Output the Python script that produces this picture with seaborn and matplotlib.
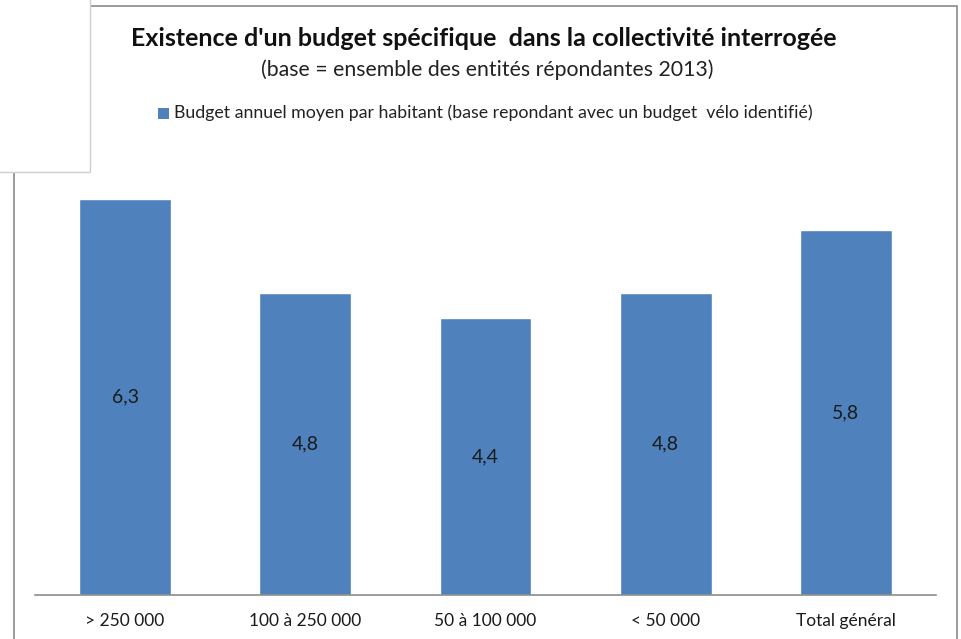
import matplotlib
matplotlib.use("Agg")
from matplotlib import pyplot as plt
from matplotlib.patches import Rectangle
import seaborn as sns
import pandas as pd

categories = ['> 250 000', '100 à 250 000', '50 à 100 000', '< 50 000', 'Total général']
budget = [6.3, 4.8, 4.4, 4.8, 5.8]
series_name = 'Budget annuel moyen par habitant (base repondant avec un budget  vélo identifié)'
title = "Existence d'un budget spécifique  dans la collectivité interrogée"
subtitle = '(base = ensemble des entités répondantes 2013)'

BLUE = '#4F81BD'

sns.set_style('white')
plt.rcParams['font.family'] = ['Lato', 'DejaVu Sans']

df = pd.DataFrame({'cat': categories, 'val': budget})

fig = plt.figure(figsize=(9.61, 6.39), dpi=100)
ax = fig.add_axes([35 / 961, 1 - 595 / 639, 901 / 961, 440 / 639])

sns.barplot(data=df, x='cat', y='val', color=BLUE, width=0.51, saturation=1, ax=ax)

for i, v in enumerate(budget):
    ax.text(i, v / 2, f'{v:.1f}'.replace('.', ','), ha='center', va='center',
            fontsize=14, color='#1a1a1a')

ax.set_ylim(0, 7)
ax.set_xlim(-0.5, len(categories) - 0.5)
ax.set_xlabel('')
ax.set_ylabel('')
ax.set_yticks([])
ax.tick_params(axis='x', length=0, pad=13, labelsize=12.5, labelcolor='#1a1a1a')
for s in ['top', 'right', 'left']:
    ax.spines[s].set_visible(False)
ax.spines['bottom'].set_color('#8c8c8c')
ax.spines['bottom'].set_linewidth(1.2)

# outer chart frame and overlapping box in the top-left corner
fig.patches.append(Rectangle((14 / 961, -0.05), 943 / 961, 1.05 - 6 / 639,
                             transform=fig.transFigure, fill=False,
                             edgecolor='#8a8a8a', linewidth=1.2))
fig.patches.append(Rectangle((-0.01, 1 - 172 / 639), 0.01 + 90 / 961, 0.02 + 172 / 639,
                             transform=fig.transFigure, facecolor='white',
                             edgecolor='#cfcfcf', linewidth=1.0, zorder=5))

fig.text(484 / 961, 1 - 38 / 639, title, ha='center', va='center',
         fontsize=18, fontweight='bold', color='#111111')
fig.text(487 / 961, 1 - 70 / 639, subtitle, ha='center', va='center',
         fontsize=15.3, color='#222222')

fig.patches.append(Rectangle((158 / 961, 1 - 119 / 639), 11 / 961, 11 / 639,
                             transform=fig.transFigure, facecolor=BLUE, edgecolor='none'))
fig.text(174 / 961, 1 - 113 / 639, series_name, ha='left', va='center',
         fontsize=12.8, color='#222222')

fig.savefig('out.png', dpi=100)
